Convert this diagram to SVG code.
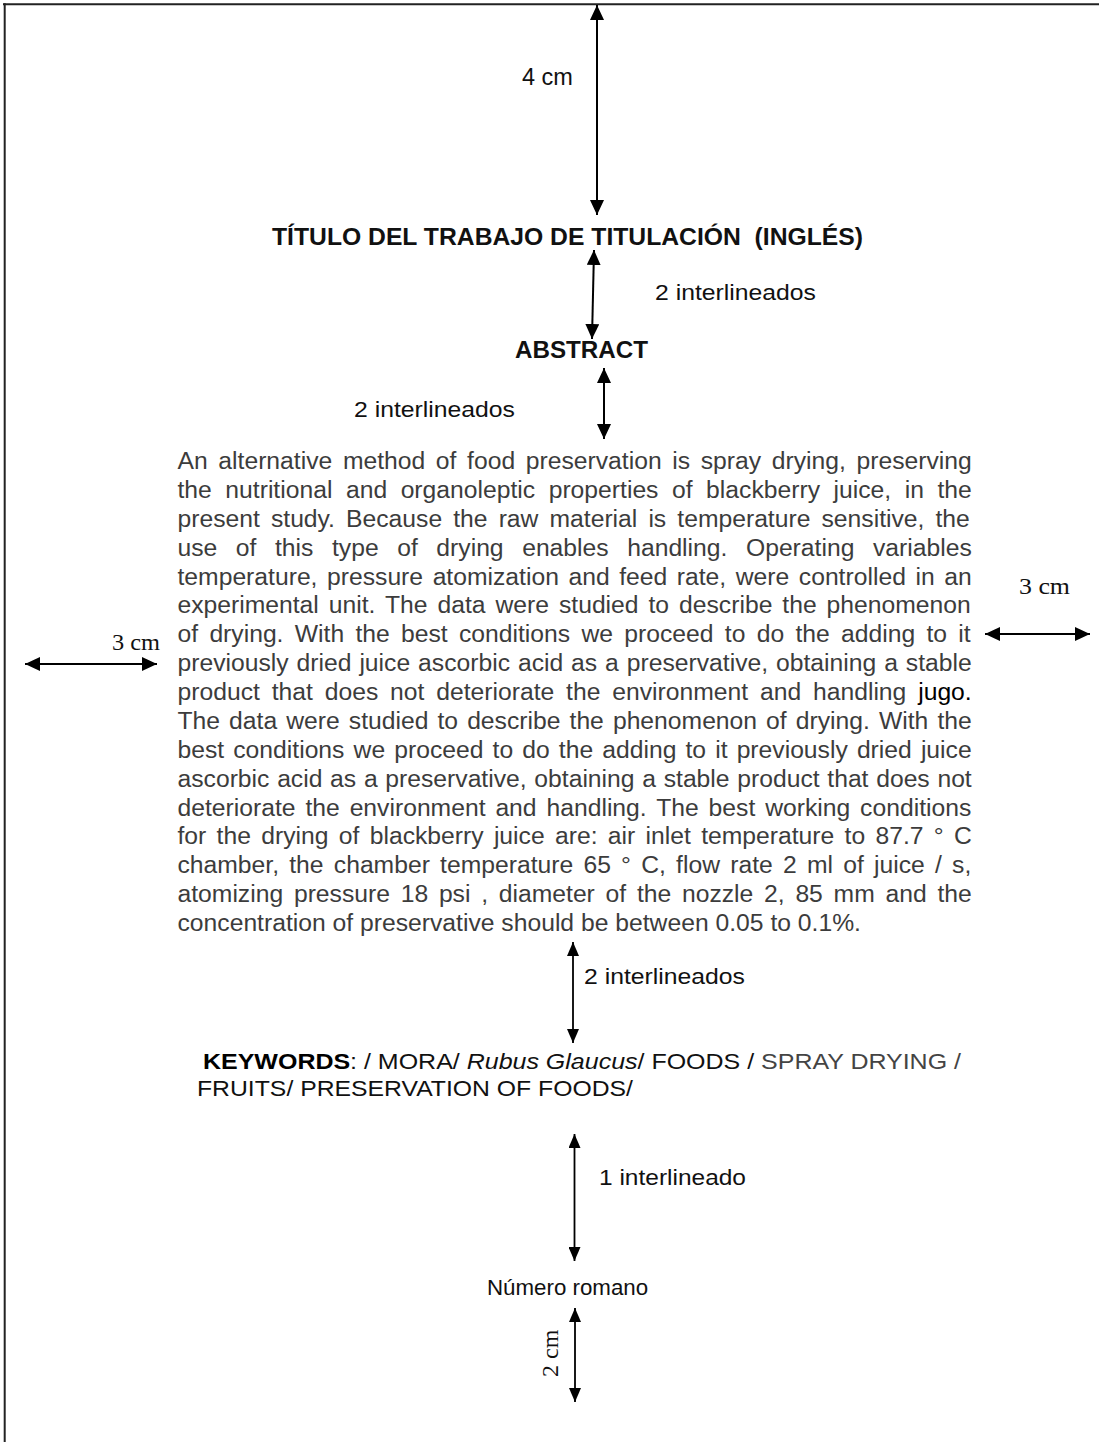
<svg xmlns="http://www.w3.org/2000/svg" width="1099" height="1442" viewBox="0 0 1099 1442">
<style>
  .lbl { font-family: "Liberation Sans", Arial, sans-serif; fill: #111; }
  .tms { font-family: "Liberation Serif", "Times New Roman", serif; fill: #111; }
  .body { font-family: "Liberation Sans", Arial, sans-serif; font-size: 24.7px; fill: #3c3c3c; }
  .arr { stroke: #000; stroke-width: 2; fill: none; marker-start: url(#ah); marker-end: url(#ah); }
  .arr2 { stroke: #000; stroke-width: 1.8; fill: none; marker-start: url(#ah2); marker-end: url(#ah2); }
  .frame { stroke: #222; stroke-width: 2; fill: none; }
</style>
<defs>
  <marker id="ah" viewBox="0 0 15 14" refX="15" refY="7" markerWidth="15" markerHeight="14" orient="auto-start-reverse" markerUnits="userSpaceOnUse">
    <path d="M0,0 L15,7 L0,14 z" fill="#000"/>
  </marker>
  <marker id="ah2" viewBox="0 0 14 12" refX="14" refY="6" markerWidth="14" markerHeight="12" orient="auto-start-reverse" markerUnits="userSpaceOnUse">
    <path d="M0,0 L14,6 L0,12 z" fill="#000"/>
  </marker>
</defs>
<rect width="1099" height="1442" fill="#fff"/>
<g id="frame">
  <line class="frame" x1="3" y1="4.3" x2="1099" y2="4.3"/>
  <line class="frame" x1="4.7" y1="3.3" x2="4.7" y2="1442"/>
</g>
<g id="connectors">
  <line class="arr" x1="597" y1="5" x2="597" y2="215"/>
  <line class="arr" x1="594" y1="250" x2="592" y2="339"/>
  <line class="arr" x1="604" y1="368" x2="604" y2="439"/>
  <line class="arr" x1="25" y1="664" x2="157" y2="664"/>
  <line class="arr" x1="985" y1="634" x2="1090" y2="634"/>
  <line class="arr2" x1="573" y1="942" x2="573" y2="1043"/>
  <line class="arr2" x1="574.5" y1="1134" x2="574.5" y2="1261"/>
  <line class="arr2" x1="575" y1="1308" x2="575" y2="1402"/>
</g>
<g id="label-4cm"><text class="lbl" x="522" y="85" font-size="23.5">4 cm</text></g>
<g id="title"><text class="lbl" x="272" y="245" font-size="23.5" font-weight="bold" xml:space="preserve" textLength="591" lengthAdjust="spacingAndGlyphs">TÍTULO DEL TRABAJO DE TITULACIÓN  (INGLÉS)</text></g>
<g id="label-2int-a"><text class="lbl" x="655" y="300" font-size="22.5" textLength="161" lengthAdjust="spacingAndGlyphs">2 interlineados</text></g>
<g id="abstract-heading"><text class="lbl" x="515" y="358" font-size="23.5" font-weight="bold" textLength="133" lengthAdjust="spacingAndGlyphs">ABSTRACT</text></g>
<g id="label-2int-b"><text class="lbl" x="354" y="417" font-size="22.5" textLength="161" lengthAdjust="spacingAndGlyphs">2 interlineados</text></g>
<g id="abstract-body">
  <text class="body" x="177.5" y="469" word-spacing="3.78">An alternative method of food preservation is spray drying, preserving</text>
  <text class="body" x="177.5" y="497.9" word-spacing="6.67">the nutritional and organoleptic properties of blackberry juice, in the</text>
  <text class="body" x="177.5" y="526.8" word-spacing="4.23">present study. Because the raw material is temperature sensitive, the</text>
  <text class="body" x="177.5" y="555.6" word-spacing="11.7">use of this type of drying enables handling. Operating variables</text>
  <text class="body" x="177.5" y="584.5" word-spacing="2.7">temperature, pressure atomization and feed rate, were controlled in an</text>
  <text class="body" x="177.5" y="613.4" word-spacing="3.1">experimental unit. The data were studied to describe the phenomenon</text>
  <text class="body" x="177.5" y="642.3" word-spacing="4.43">of drying. With the best conditions we proceed to do the adding to it</text>
  <text class="body" x="177.5" y="671.1" word-spacing="1.06">previously dried juice ascorbic acid as a preservative, obtaining a stable</text>
  <text class="body" x="177.5" y="700" word-spacing="4.98">product that does not deteriorate the environment and handling <tspan fill="#000">jugo.</tspan></text>
  <text class="body" x="177.5" y="728.9" word-spacing="2.21">The data were studied to describe the phenomenon of drying. With the</text>
  <text class="body" x="177.5" y="757.8" word-spacing="2.25">best conditions we proceed to do the adding to it previously dried juice</text>
  <text class="body" x="177.5" y="786.6" word-spacing="0.84">ascorbic acid as a preservative, obtaining a stable product that does not</text>
  <text class="body" x="177.5" y="815.5" word-spacing="3.04">deteriorate the environment and handling. The best working conditions</text>
  <text class="body" x="177.5" y="844.4" word-spacing="3.45">for the drying of blackberry juice are: air inlet temperature to 87.7 ° C</text>
  <text class="body" x="177.5" y="873.3" word-spacing="3.36">chamber, the chamber temperature 65 ° C, flow rate 2 ml of juice / s,</text>
  <text class="body" x="177.5" y="902.1" word-spacing="3.88">atomizing pressure 18 psi , diameter of the nozzle 2, 85 mm and the</text>
  <text class="body" x="177.5" y="931">concentration of preservative should be between 0.05 to 0.1%.</text>
</g>
<g id="label-3cm-left"><text class="tms" x="112" y="650" font-size="23" textLength="48" lengthAdjust="spacingAndGlyphs">3 cm</text></g>
<g id="label-3cm-right"><text class="tms" x="1019" y="594" font-size="23" textLength="51" lengthAdjust="spacingAndGlyphs">3 cm</text></g>
<g id="label-2int-c"><text class="lbl" x="584" y="984" font-size="22.5" textLength="161" lengthAdjust="spacingAndGlyphs">2 interlineados</text></g>
<g id="keywords">
  <text class="lbl" x="203" y="1069" font-size="22" textLength="758" lengthAdjust="spacingAndGlyphs"><tspan font-weight="bold" fill="#000">KEYWORDS</tspan>: / MORA/ <tspan font-style="italic">Rubus Glaucus</tspan>/ FOODS / <tspan fill="#444">SPRAY DRYING /</tspan></text>
  <text class="lbl" x="197" y="1096" font-size="22" textLength="436" lengthAdjust="spacingAndGlyphs">FRUITS/ PRESERVATION OF FOODS/</text>
</g>
<g id="label-1int"><text class="lbl" x="599" y="1185" font-size="22.5" textLength="147" lengthAdjust="spacingAndGlyphs">1 interlineado</text></g>
<g id="page-number"><text class="lbl" x="487" y="1295" font-size="22.3">Número romano</text></g>
<g id="label-2cm"><text class="tms" transform="translate(558,1377) rotate(-90)" x="0" y="0" font-size="24">2 cm</text></g>
</svg>
